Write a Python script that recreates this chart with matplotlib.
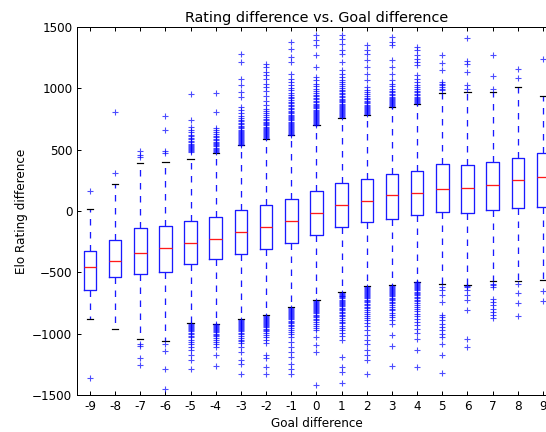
import matplotlib
matplotlib.use("Agg")
import matplotlib.pyplot as plt

goal_diff = ['-9', '-8', '-7', '-6', '-5', '-4', '-3', '-2', '-1', '0',
             '1', '2', '3', '4', '5', '6', '7', '8', '9']

q1 = [-641, -535, -516, -497, -429, -391, -353, -307, -261, -198,
      -130, -90, -68, -33, -11, -13, 11, 24, 33]
med = [-459, -404, -339, -302, -258, -225, -171, -133, -81, -13,
       52, 85, 128, 150, 179, 188, 215, 256, 277]
q3 = [-326, -233, -135, -122, -84, -49, 6, 52, 95, 163,
      228, 261, 299, 329, 381, 378, 400, 435, 476]
whislo = [-883, -964, -1046, -1059, -910, -921, -883, -850, -785, -728,
          -660, -614, -606, -576, -592, -600, -568, -568, -559]
whishi = [20, 223, 394, 402, 421, 473, 535, 590, 617, 698,
          761, 786, 848, 872, 962, 970, 970, 1011, 935]

fliers_hi = [
    [163],
    [313, 804],
    [440, 460, 489],
    [476, 489, 658, 774],
    [481, 490, 498, 507, 515, 524, 533, 541, 550, 562, 571, 583, 596, 608, 622, 640, 662, 685, 745, 951],
    [481, 490, 499, 508, 517, 527, 536, 546, 556, 566, 577, 589, 601, 614, 628, 645, 662, 680, 804, 962],
    [540, 548, 556, 563, 571, 579, 587, 595, 603, 611, 619, 628, 637, 646, 655, 664, 674, 684, 695, 706,
     718, 731, 745, 760, 778, 798, 820, 848, 929, 970, 1024, 1079, 1214, 1283],
    [595, 603, 611, 619, 627, 635, 643, 652, 661, 670, 679, 688, 698, 708, 718, 729, 740, 752, 765, 779,
     795, 812, 832, 861, 900, 940, 975, 1011, 1038, 1079, 1106, 1133, 1174, 1201],
    [622, 630, 638, 646, 654, 662, 670, 678, 686, 694, 702, 711, 720, 729, 738, 747, 756, 765, 775, 785,
     795, 806, 817, 828, 840, 852, 864, 877, 890, 904, 918, 933, 948, 965, 983, 1002, 1025, 1050, 1080,
     1120, 1214, 1255, 1323, 1377],
    [703, 711, 719, 727, 735, 743, 751, 759, 767, 775, 783, 791, 800, 809, 818, 827, 836, 845, 855, 865,
     875, 886, 897, 909, 921, 934, 948, 963, 979, 996, 1015, 1038, 1065, 1092, 1174, 1269, 1350, 1391, 1432],
    [766, 774, 782, 790, 798, 806, 814, 822, 830, 839, 848, 857, 866, 875, 885, 895, 905, 916, 927, 938,
     950, 962, 975, 988, 1002, 1017, 1033, 1050, 1070, 1092, 1120, 1150, 1214, 1283, 1310, 1364, 1405, 1432],
    [791, 799, 807, 815, 823, 831, 840, 849, 858, 867, 877, 887, 898, 910, 923, 937, 952, 968, 986, 1011,
     1065, 1120, 1174, 1228, 1283, 1310, 1350],
    [853, 861, 869, 877, 885, 894, 903, 912, 922, 932, 943, 955, 968, 982, 998, 1016, 1038, 1065, 1120,
     1174, 1228, 1350, 1377, 1418],
    [877, 885, 893, 902, 911, 921, 931, 942, 954, 967, 982, 998, 1011, 1024, 1051, 1079, 1106, 1188, 1214,
     1242, 1275, 1310, 1337],
    [985, 998, 1011, 1024, 1038, 1051, 1147, 1206, 1269],
    [998, 1024, 1133, 1201, 1223, 1413],
    [998, 1098, 1269],
    [1084, 1155],
    [1236],
]

fliers_lo = [
    [-1361],
    [],
    [-1081, -1100, -1198, -1252],
    [-1081, -1141, -1285, -1448],
    [-918, -926, -935, -944, -952, -961, -970, -980, -991, -1003, -1016, -1030, -1048, -1066, -1085, -1108,
     -1135, -1176, -1211, -1290],
    [-921, -929, -937, -946, -954, -963, -972, -981, -990, -1000, -1011, -1023, -1036, -1050, -1066, -1085,
     -1108, -1176, -1263],
    [-888, -896, -904, -912, -920, -928, -936, -945, -954, -963, -972, -982, -993, -1005, -1018, -1032,
     -1048, -1063, -1080, -1108, -1149, -1217, -1249, -1325],
    [-855, -863, -871, -879, -887, -895, -903, -912, -921, -930, -939, -949, -959, -970, -982, -995, -1010,
     -1028, -1050, -1080, -1176, -1195, -1271, -1331],
    [-790, -798, -806, -814, -822, -830, -838, -847, -856, -865, -874, -883, -893, -903, -914, -926, -939,
     -953, -968, -985, -1003, -1030, -1067, -1108, -1149, -1190, -1244, -1285, -1325],
    [-733, -741, -749, -757, -765, -773, -781, -789, -798, -807, -816, -825, -835, -845, -856, -867, -879,
     -892, -906, -921, -938, -955, -972, -1027, -1095, -1149, -1415],
    [-665, -673, -681, -689, -697, -705, -713, -722, -731, -740, -749, -758, -768, -778, -788, -799, -810,
     -821, -833, -845, -858, -872, -886, -901, -917, -934, -952, -972, -995, -1020, -1054, -1190, -1271,
     -1312, -1402],
    [-619, -627, -635, -643, -651, -659, -667, -676, -685, -694, -703, -713, -723, -733, -744, -755, -767,
     -779, -792, -806, -821, -837, -854, -872, -892, -914, -940, -972, -1013, -1054, -1081, -1135, -1176,
     -1211, -1325],
    [-611, -619, -627, -635, -643, -651, -660, -669, -678, -687, -697, -707, -718, -729, -741, -753, -766,
     -780, -795, -811, -828, -846, -866, -890, -920, -1013, -1103, -1263],
    [-581, -589, -597, -605, -613, -621, -630, -639, -648, -657, -667, -677, -688, -699, -711, -723, -736,
     -750, -765, -781, -798, -816, -836, -857, -880, -905, -932, -962, -995, -1040, -1130, -1271],
    [-619, -646, -687, -742, -850, -864, -891, -918, -945, -972, -999, -1027, -1086, -1176, -1320],
    [-612, -619, -646, -687, -728, -804, -1040, -1108],
    [-592, -606, -619, -714, -742, -769, -796, -823, -850, -869],
    [-592, -665, -747, -856],
    [-652, -736],
]

plt.rcParams['font.family'] = ['DejaVu Sans']
plt.rcParams['font.size'] = 12

W, H, DPI = 546, 432, 72
fig = plt.figure(figsize=(W / DPI, H / DPI), dpi=DPI)
ax = fig.add_axes([77.3 / W, (H - 395) / H, (555.6 - 77.3) / W, (395 - 27) / H])

stats = []
for i in range(len(goal_diff)):
    stats.append(dict(med=med[i], q1=q1[i], q3=q3[i], whislo=whislo[i], whishi=whishi[i],
                      fliers=fliers_hi[i] + fliers_lo[i], label=goal_diff[i]))

positions = list(range(1, len(goal_diff) + 1))
ax.bxp(stats, positions=positions, widths=0.5, showfliers=True,
       boxprops=dict(color='#1a1aff', linewidth=1.3),
       medianprops=dict(color='#ff1a1a', linewidth=1.3),
       whiskerprops=dict(color='#1a1aff', linewidth=1.3, linestyle=(0, (5, 5))),
       capprops=dict(color='black', linewidth=1.2),
       flierprops=dict(marker='+', markeredgecolor='blue', markerfacecolor='none', alpha=0.7,
                       markersize=6, markeredgewidth=1.1, linestyle='none'))

ax.set_xlim(0.5, len(goal_diff) + 0.5)
ax.set_ylim(-1500, 1500)
ax.set_yticks([-1500, -1000, -500, 0, 500, 1000, 1500])
ax.set_xticks(positions)
ax.set_xticklabels(goal_diff)
ax.tick_params(direction='in', top=True, right=True, length=4, width=1, labelsize=12, pad=5)
for s in ax.spines.values():
    s.set_linewidth(1)

ax.set_title('Rating difference vs. Goal difference', fontsize=14.4, pad=5)
ax.set_xlabel('Goal difference', fontsize=12)
ax.set_ylabel('Elo Rating difference', fontsize=12)

fig.savefig('out.png', dpi=DPI)
